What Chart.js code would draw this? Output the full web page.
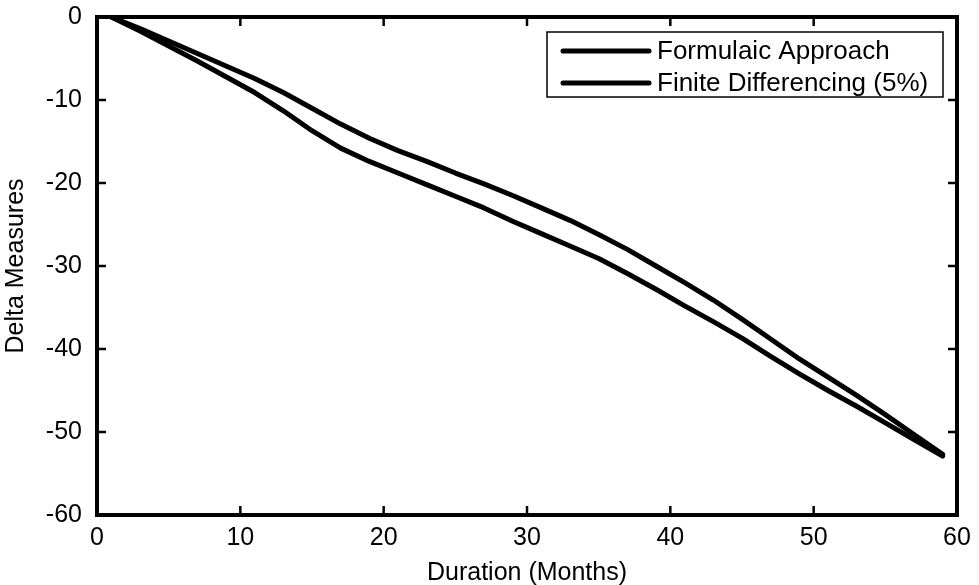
<!DOCTYPE html>
<html>
<head>
<meta charset="utf-8">
<script src="https://cdn.jsdelivr.net/npm/chart.js@4.4.0/dist/chart.umd.min.js"></script>
<style>
  html, body { margin: 0; padding: 0; background: #fff; }
  #wrap { width: 979px; height: 585px; }
</style>
</head>
<body>
<div id="wrap"><canvas id="chart"></canvas></div>
<script>
const months = [1, 3, 5, 7, 9, 11, 13, 15, 17, 19, 21, 23, 25, 27, 29, 31, 33, 35, 37, 39, 41, 43, 45, 47, 49, 51, 53, 55, 57, 59];
const formulaic = [0, -1.4, -2.9, -4.4, -5.9, -7.4, -9.1, -11.0, -12.9, -14.6, -16.1, -17.4, -18.8, -20.1, -21.5, -23.0, -24.5, -26.2, -28.0, -30.0, -32.0, -34.1, -36.4, -38.8, -41.2, -43.4, -45.6, -47.9, -50.3, -52.7];
const finiteDiff = [0, -1.7, -3.5, -5.3, -7.2, -9.1, -11.3, -13.7, -15.8, -17.4, -18.8, -20.2, -21.6, -23.0, -24.6, -26.1, -27.6, -29.1, -30.9, -32.8, -34.8, -36.7, -38.7, -40.9, -43.0, -45.0, -46.9, -48.9, -50.9, -52.9];
const seriesLabels = ["Formulaic Approach", "Finite Differencing (5%)"];
const xTicks = [0, 10, 20, 30, 40, 50, 60];
const yTicks = [-60, -50, -40, -30, -20, -10, 0];

const FONT = "'Liberation Sans', Arial, Helvetica, sans-serif";

function toPoints(values) {
  return months.map((m, i) => ({ x: m, y: values[i] }));
}

// frame, inward ticks on all sides, and the boxed legend
const matlabStyle = {
  id: "matlabStyle",
  afterDraw(chart) {
    const { ctx, chartArea: a, scales } = chart;
    ctx.save();
    ctx.strokeStyle = "#000";
    ctx.lineWidth = 2.5;
    const tl = 9;
    xTicks.forEach((v) => {
      const px = scales.x.getPixelForValue(v);
      ctx.beginPath();
      ctx.moveTo(px, a.bottom); ctx.lineTo(px, a.bottom - tl);
      ctx.moveTo(px, a.top); ctx.lineTo(px, a.top + tl);
      ctx.stroke();
    });
    yTicks.forEach((v) => {
      const py = scales.y.getPixelForValue(v);
      ctx.beginPath();
      ctx.moveTo(a.left, py); ctx.lineTo(a.left + tl, py);
      ctx.moveTo(a.right, py); ctx.lineTo(a.right - tl, py);
      ctx.stroke();
    });
    ctx.lineWidth = 4;
    ctx.strokeRect(a.left, a.top, a.right - a.left, a.bottom - a.top);

    // legend
    const bx = 547, by = 32, bw = 396, bh = 65;
    ctx.fillStyle = "#fff";
    ctx.fillRect(bx, by, bw, bh);
    ctx.lineWidth = 1.5;
    ctx.strokeRect(bx, by, bw, bh);
    ctx.font = "26px " + FONT;
    ctx.textBaseline = "middle";
    ctx.fillStyle = "#000";
    chart.data.datasets.forEach((ds, i) => {
      const y = by + 19 + i * 32;
      ctx.lineWidth = ds.borderWidth;
      ctx.lineCap = "round";
      ctx.beginPath();
      ctx.moveTo(bx + 16, y);
      ctx.lineTo(bx + 102, y);
      ctx.stroke();
      ctx.fillText(ds.label, bx + 110, y + 1);
    });
    ctx.restore();
  }
};

new Chart(document.getElementById("chart"), {
  type: "line",
  data: {
    datasets: [
      {
        label: seriesLabels[0],
        data: toPoints(formulaic),
        borderColor: "#000",
        borderWidth: 5,
        pointRadius: 0,
        tension: 0,
        borderCapStyle: "round",
        borderJoinStyle: "round",
      },
      {
        label: seriesLabels[1],
        data: toPoints(finiteDiff),
        borderColor: "#000",
        borderWidth: 5,
        pointRadius: 0,
        tension: 0,
        borderCapStyle: "round",
        borderJoinStyle: "round",
      },
    ],
  },
  options: {
    responsive: true,
    maintainAspectRatio: false,
    animation: false,
    events: [],
    layout: { padding: { top: 17, right: 22, left: 0, bottom: 0 } },
    plugins: { legend: { display: false }, tooltip: { enabled: false } },
    scales: {
      x: {
        type: "linear",
        min: 0,
        max: 60,
        afterBuildTicks: (s) => { s.ticks = xTicks.map((v) => ({ value: v })); },
        afterFit: (s) => { s.height = 70; s.paddingLeft = 0; s.paddingRight = 0; },
        grid: { display: false, drawTicks: false },
        border: { display: false },
        ticks: { color: "#000", padding: 8, font: { family: FONT, size: 25 } },
        title: { display: true, text: "Duration (Months)", color: "#000", padding: { top: 0, bottom: -3 }, font: { family: FONT, size: 25 } },
      },
      y: {
        type: "linear",
        min: -60,
        max: 0,
        afterBuildTicks: (s) => { s.ticks = yTicks.map((v) => ({ value: v })); },
        afterFit: (s) => { s.width = 97; s.paddingTop = 0; s.paddingBottom = 0; },
        grid: { display: false, drawTicks: false },
        border: { display: false },
        ticks: { color: "#000", padding: 15, font: { family: FONT, size: 25 } },
        title: { display: true, text: "Delta Measures", color: "#000", padding: { top: 1, bottom: 0 }, font: { family: FONT, size: 25 } },
      },
    },
  },
  plugins: [matlabStyle],
});
</script>
</body>
</html>
